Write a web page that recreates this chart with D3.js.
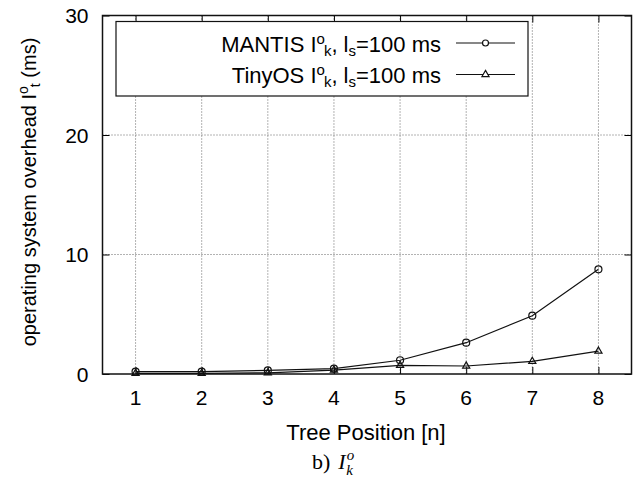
<!DOCTYPE html>
<html>
<head>
<meta charset="utf-8">
<script src="https://cdn.jsdelivr.net/npm/d3@7"></script>
<style>
  body { margin: 0; background: #fff; }
  svg { font-family: "Liberation Sans", Arial, sans-serif; }
</style>
</head>
<body>
<div id="chart"></div>
<script>
const width = 640, height = 488;

const positions = [1, 2, 3, 4, 5, 6, 7, 8];
const mantisValues = [0.2, 0.2, 0.3, 0.45, 1.15, 2.62, 4.88, 8.76];
const tinyosValues = [0.05, 0.05, 0.1, 0.33, 0.73, 0.67, 1.06, 1.92];
const yTicks = [0, 10, 20, 30];

const margin = {left: 102.5, right: 8.5, top: 15.5, bottom: 114};
const plotW = width - margin.left - margin.right;
const plotH = height - margin.top - margin.bottom;

const svg = d3.select("#chart").append("svg")
    .attr("width", width)
    .attr("height", height);

const x = d3.scaleLinear().domain([0.5, 8.5]).range([0, plotW]);
const y = d3.scaleLinear().domain([0, 30]).range([plotH, 0]);

const g = svg.append("g")
    .attr("transform", `translate(${margin.left},${margin.top})`);

// grid
g.selectAll("line.vgrid")
    .data(positions)
    .enter().append("line")
    .attr("class", "vgrid")
    .attr("x1", d => x(d)).attr("x2", d => x(d))
    .attr("y1", 0).attr("y2", plotH)
    .attr("stroke", "#666").attr("stroke-width", 1)
    .attr("stroke-dasharray", "1,2");

g.selectAll("line.hgrid")
    .data(yTicks.slice(1, 3))
    .enter().append("line")
    .attr("class", "hgrid")
    .attr("x1", 0).attr("x2", plotW)
    .attr("y1", d => y(d)).attr("y2", d => y(d))
    .attr("stroke", "#666").attr("stroke-width", 1)
    .attr("stroke-dasharray", "1,2");

// axes with inward ticks, mirrored
const tickLen = 7;
g.append("g")
    .attr("transform", `translate(0,${plotH})`)
    .call(d3.axisTop(x).tickValues(positions).tickSize(tickLen).tickFormat(""))
    .call(a => a.select(".domain").remove());
g.append("g")
    .call(d3.axisBottom(x).tickValues(positions).tickSize(tickLen).tickFormat(""))
    .call(a => a.select(".domain").remove());
g.append("g")
    .call(d3.axisRight(y).tickValues(yTicks).tickSize(tickLen).tickFormat(""))
    .call(a => a.select(".domain").remove());
g.append("g")
    .attr("transform", `translate(${plotW},0)`)
    .call(d3.axisLeft(y).tickValues(yTicks).tickSize(tickLen).tickFormat(""))
    .call(a => a.select(".domain").remove());

// tick labels
g.selectAll("text.xlab")
    .data(positions)
    .enter().append("text")
    .attr("x", d => x(d))
    .attr("y", plotH + 31)
    .attr("text-anchor", "middle")
    .attr("font-size", 21)
    .text(d => d);

g.selectAll("text.ylab")
    .data(yTicks)
    .enter().append("text")
    .attr("x", -14)
    .attr("y", d => y(d) + 7.5)
    .attr("text-anchor", "end")
    .attr("font-size", 21)
    .text(d => d);

// data lines
const line = d3.line()
    .x((d, i) => x(positions[i]))
    .y(d => y(d));

g.append("path")
    .datum(mantisValues)
    .attr("d", line)
    .attr("fill", "none")
    .attr("stroke", "#111")
    .attr("stroke-width", 1.2);

g.append("path")
    .datum(tinyosValues)
    .attr("d", line)
    .attr("fill", "none")
    .attr("stroke", "#111")
    .attr("stroke-width", 1.2);

const tri = d3.symbol().type(d3.symbolTriangle).size(22);

g.selectAll("circle.mantis")
    .data(mantisValues)
    .enter().append("circle")
    .attr("cx", (d, i) => x(positions[i]))
    .attr("cy", d => y(d))
    .attr("r", 3.5)
    .attr("fill", "none")
    .attr("stroke", "#111")
    .attr("stroke-width", 1.2);

g.selectAll("path.tiny")
    .data(tinyosValues)
    .enter().append("path")
    .attr("d", tri)
    .attr("transform", (d, i) => `translate(${x(positions[i])},${y(d)})`)
    .attr("fill", "none")
    .attr("stroke", "#111")
    .attr("stroke-width", 1.2);

// frame
g.append("rect")
    .attr("width", plotW).attr("height", plotH)
    .attr("fill", "none")
    .attr("stroke", "#111")
    .attr("stroke-width", 1.5);

// legend
const legend = svg.append("g");
legend.append("rect")
    .attr("x", 116).attr("y", 21.5)
    .attr("width", 412).attr("height", 74.5)
    .attr("fill", "#fff")
    .attr("stroke", "#111")
    .attr("stroke-width", 1.2);

const legendNames = ["MANTIS", "TinyOS"];
legendNames.forEach((name, i) => {
    const cy = 43 + i * 31.5;
    const t = legend.append("text")
        .attr("x", 441)
        .attr("y", cy + 8.5)
        .attr("text-anchor", "end")
        .attr("font-size", 22);
    t.append("tspan").text(name + " I");
    t.append("tspan").attr("font-size", 15).attr("dy", -8).text("o");
    t.append("tspan").attr("font-size", 15).attr("dy", 12).attr("dx", -1).text("k");
    t.append("tspan").attr("dy", -4).text(", l");
    t.append("tspan").attr("font-size", 15).attr("dy", 4).text("s");
    t.append("tspan").attr("dy", -4).text("=100 ms");

    legend.append("line")
        .attr("x1", 456).attr("x2", 515)
        .attr("y1", cy).attr("y2", cy)
        .attr("stroke", "#111").attr("stroke-width", 1.2);
    if (i === 0) {
        legend.append("circle")
            .attr("cx", 485.5).attr("cy", cy).attr("r", 3)
            .attr("fill", "#fff").attr("stroke", "#111").attr("stroke-width", 1.2);
    } else {
        legend.append("path")
            .attr("d", tri)
            .attr("transform", `translate(485.5,${cy})`)
            .attr("fill", "#fff").attr("stroke", "#111").attr("stroke-width", 1.2);
    }
});

// axis titles
const yTitle = svg.append("text")
    .attr("transform", `translate(36,192) rotate(-90)`)
    .attr("text-anchor", "middle")
    .attr("font-size", 20);
yTitle.append("tspan").text("operating system overhead I");
yTitle.append("tspan").attr("font-size", 14).attr("dy", -8).text("o");
yTitle.append("tspan").attr("font-size", 14).attr("dy", 12).attr("dx", -1).text("t");
yTitle.append("tspan").attr("dy", -4).text(" (ms)");

svg.append("text")
    .attr("x", 366).attr("y", 440)
    .attr("text-anchor", "middle")
    .attr("font-size", 22)
    .text("Tree Position [n]");

const sub = svg.append("text")
    .attr("x", 312).attr("y", 469)
    .attr("font-family", "'Liberation Serif', 'Times New Roman', serif")
    .attr("font-size", 22);
sub.append("tspan").text("b)");
sub.append("tspan").attr("font-style", "italic").attr("dx", 8).text("I");
sub.append("tspan").attr("font-style", "italic").attr("font-size", 15).attr("dy", -9).attr("dx", 1).text("o");
sub.append("tspan").attr("font-style", "italic").attr("font-size", 15).attr("dy", 15).attr("dx", -8).text("k");
</script>
</body>
</html>
